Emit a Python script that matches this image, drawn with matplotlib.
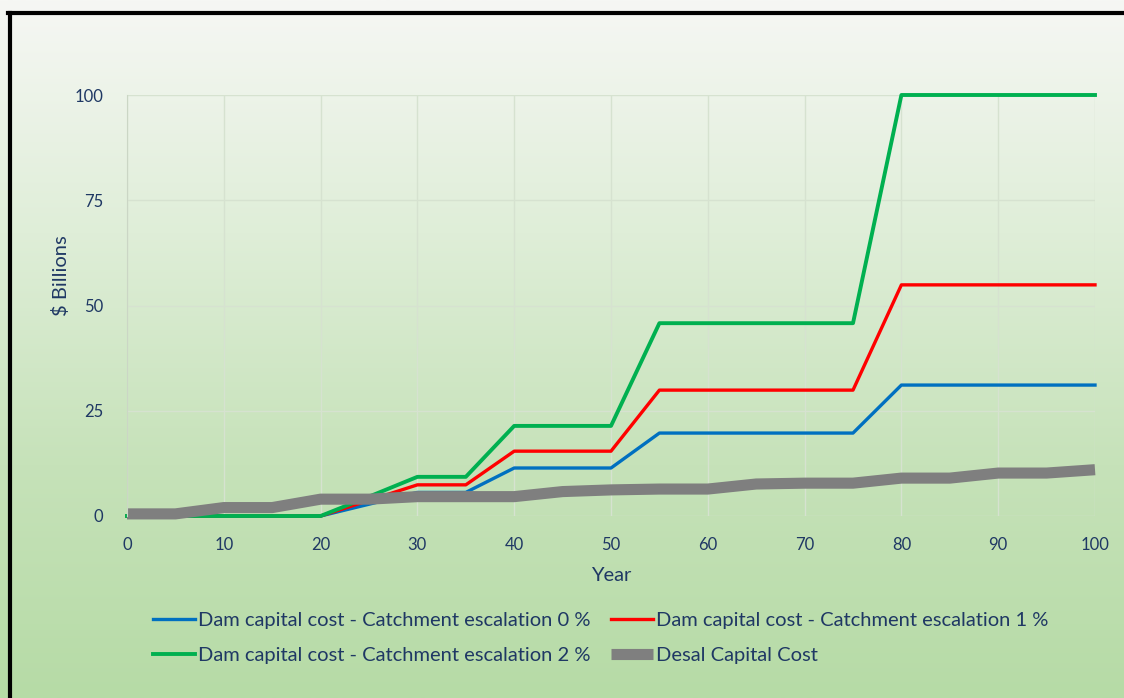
import numpy as np
import matplotlib
matplotlib.use('Agg')
import matplotlib.pyplot as plt
from matplotlib.colors import LinearSegmentedColormap

plt.rcParams['font.family'] = ['Lato', 'DejaVu Sans']

years = [0, 5, 10, 15, 20, 25, 30, 35, 40, 45, 50, 55, 60, 65, 70, 75, 80, 85, 90, 95, 100]
dam_0 = [0, 0, 0, 0, 0, 2.8, 5.6, 5.6, 11.4, 11.4, 11.4, 19.7, 19.7, 19.7, 19.7, 19.7, 31.1, 31.1, 31.1, 31.1, 31.1]
dam_1 = [0, 0, 0, 0, 0, 3.7, 7.4, 7.4, 15.4, 15.4, 15.4, 29.9, 29.9, 29.9, 29.9, 29.9, 54.9, 54.9, 54.9, 54.9, 54.9]
dam_2 = [0, 0, 0, 0, 0, 4.6, 9.3, 9.3, 21.4, 21.4, 21.4, 45.8, 45.8, 45.8, 45.8, 45.8, 100, 100, 100, 100, 100]
desal = [0.5, 0.5, 2, 2, 4, 4, 4.6, 4.6, 4.6, 5.8, 6.2, 6.4, 6.4, 7.6, 7.8, 7.8, 9, 9, 10.2, 10.2, 11]

labels = ['Dam capital cost - Catchment escalation 0 %',
          'Dam capital cost - Catchment escalation 1 %',
          'Dam capital cost - Catchment escalation 2 %',
          'Desal Capital Cost']

txt = '#1f3864'

fig = plt.figure(figsize=(11.24, 6.98), dpi=100)

# gradient background
bg = fig.add_axes([0, 0, 1, 1], zorder=-5)
cmap = LinearSegmentedColormap.from_list('bg', ['#f6f7f4', '#dfeed8', '#c6e2b9', '#b6dba6'])
grad = np.linspace(0, 1, 256).reshape(-1, 1)
bg.imshow(grad, aspect='auto', cmap=cmap, extent=[0, 1, 0, 1], origin='upper')
bg.axis('off')
bg.plot([8 / 1124, 1], [1 - 13 / 698, 1 - 13 / 698], color='black', lw=3, transform=bg.transAxes)
bg.plot([9.5 / 1124, 9.5 / 1124], [0, 1 - 13 / 698], color='black', lw=3, transform=bg.transAxes)
bg.set_xlim(0, 1)
bg.set_ylim(0, 1)

ax = fig.add_axes([127 / 1124, 1 - 516 / 698, (1095 - 127) / 1124, (516 - 95) / 698])
ax.patch.set_alpha(0)

l0, = ax.plot(years, dam_0, color='#0070c0', lw=2.4, label=labels[0], clip_on=False)
l1, = ax.plot(years, dam_1, color='#ff0000', lw=2.4, label=labels[1], clip_on=False)
l2, = ax.plot(years, dam_2, color='#00b050', lw=2.8, label=labels[2], clip_on=False)
l3, = ax.plot(years, desal, color='#7f7f7f', lw=8, label=labels[3], clip_on=False,
              solid_capstyle='butt')

ax.set_xlim(0, 100)
ax.set_ylim(0, 100)
ax.set_xticks(range(0, 101, 10))
ax.set_yticks(range(0, 101, 25))
ax.grid(True, color='#d6e2d0', lw=1)
ax.set_axisbelow(True)
for s in ['top', 'right', 'bottom']:
    ax.spines[s].set_visible(False)
ax.spines['left'].set_color('#cbd6c5')
ax.tick_params(length=0, labelsize=12, labelcolor=txt)
ax.tick_params(axis='y', pad=17)
ax.tick_params(axis='x', pad=15)
ax.set_xlabel('Year', fontsize=14.5, color=txt, labelpad=10)
ax.set_ylabel('$ Billions', fontsize=14.5, color=txt)
ax.yaxis.set_label_coords(-0.059, 0.57)

# column-major fill: blue, red on row 1; green, gray on row 2
fig.legend([l0, l2, l1, l3], [labels[0], labels[2], labels[1], labels[3]],
           loc='center', bbox_to_anchor=(601 / 1124, 1 - 638 / 698), ncol=2, frameon=False,
           fontsize=14.5, labelcolor=txt, handlelength=2.1, handletextpad=0.15,
           columnspacing=1.0, labelspacing=0.9)

fig.savefig('out.png', dpi=100)
